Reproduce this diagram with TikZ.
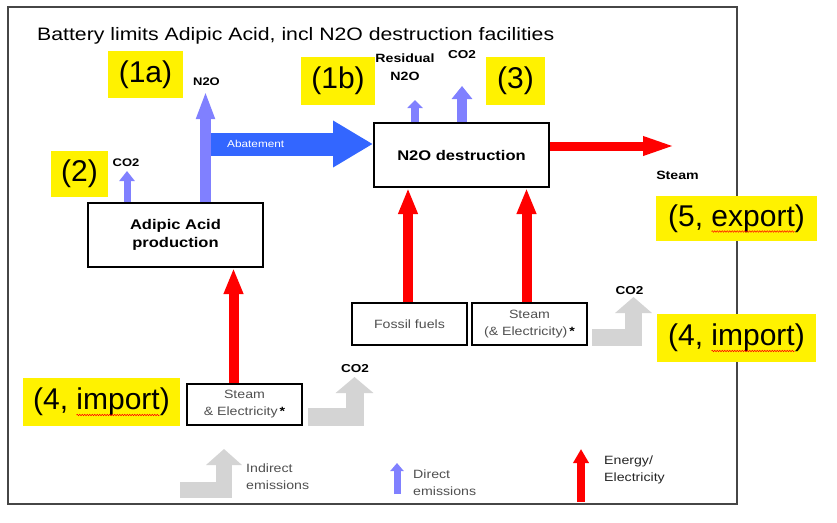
\documentclass[tikz,border=0pt]{standalone}
\usepackage{fontspec}
\setmainfont{Liberation Sans}[FakeStretch=1.18]
\newfontfamily\yfont{Liberation Sans}
\usetikzlibrary{arrows.meta,calc,decorations.pathmorphing}
\definecolor{lblue}{RGB}{128,128,255}
\definecolor{ablue}{RGB}{51,102,255}
\definecolor{arrgray}{RGB}{212,212,212}
\definecolor{txtgray}{RGB}{80,80,80}
\definecolor{framegray}{RGB}{70,70,70}
\tikzset{
  arr/.style n args={3}{line width=#1, -{Triangle[width=#2,length=#3]}},
  box/.style={draw=black, line width=2pt, fill=white, inner sep=0pt, align=center},
  ylab/.style={fill=yellow, inner sep=0pt, font=\yfont\fontsize{30}{30}\selectfont},
  lbl/.style={inner sep=0pt, align=center, font=\bfseries\fontsize{11.5}{18}\selectfont},
  legtxt/.style={inner sep=0pt, anchor=west, align=left, font=\fontsize{12}{17}\selectfont},
  bentarr/.style={draw=arrgray, line join=miter},
  wavy/.style={draw=red, line width=0.5pt, decorate, decoration={snake, amplitude=0.8pt, segment length=2.5pt}}
}
\begin{document}
\begin{tikzpicture}[x=1pt,y=-1pt]
\useasboundingbox (0,0) rectangle (837,522);
\fill[white] (0,0) rectangle (837,522);
\draw[framegray, line width=1.5pt] (8,7) rectangle (737,504);

\node[anchor=west, inner sep=0pt, font=\fontsize{18}{20}\selectfont] (title) at (37,36) {Battery limits Adipic Acid, incl N2O destruction facilities};

% yellow labels
\node[ylab, minimum width=75pt, minimum height=47pt] (y1a) at (145.5,74.5) {(1a)};
\node[ylab, minimum width=74pt, minimum height=48pt] (y1b) at (338,81) {(1b)};
\node[ylab, minimum width=57pt, minimum height=46pt] (y2) at (79.5,174) {(2)};
\node[ylab, minimum width=59pt, minimum height=48pt] (y3) at (515.5,81) {(3)};
\node[ylab, minimum width=161pt, minimum height=45pt] (y5) at (736.5,218.5) {(5, export)};
\node[ylab, minimum width=159pt, minimum height=48pt] (y4r) at (736.5,338) {(4, import)};
\node[ylab, minimum width=157pt, minimum height=48pt] (y4l) at (101.5,402) {(4, import)};
\draw[wavy] ($(y5.center)+(-25,13)$) -- ++(83,0);
\draw[wavy] ($(y4r.center)+(-25,13)$) -- ++(83,0);
\draw[wavy] ($(y4l.center)+(-25,13)$) -- ++(83,0);

% boxes
\node[box, minimum width=175pt, minimum height=64pt, font=\bfseries\fontsize{14}{18}\selectfont] (adipic) at (175.5,235) {Adipic Acid\\production};
\node[box, minimum width=175pt, minimum height=64pt, font=\bfseries\fontsize{14}{18}\selectfont] (n2o) at (461.5,155) {N2O destruction};
\node[box, minimum width=115pt, minimum height=42pt, text=txtgray, font=\fontsize{12}{17}\selectfont] (fossil) at (409.5,324) {Fossil fuels};
\node[box, minimum width=115pt, minimum height=42pt, text=txtgray, font=\fontsize{12}{17}\selectfont] (steamR) at (529.5,324) {Steam\\(\& Electricity)\,{\bfseries\textcolor{black}{*}}};
\node[box, minimum width=115pt, minimum height=41pt, text=txtgray, font=\fontsize{12}{17}\selectfont] (steamL) at (244.5,404.5) {Steam\\\& Electricity\,{\bfseries\textcolor{black}{*}}};

% labels
\node[lbl, font=\bfseries\fontsize{11}{13}\selectfont] (lN2O) at (206.5,82) {N2O};
\node[lbl, font=\bfseries\fontsize{11}{13}\selectfont] (lCO2a) at (126,163) {CO2};
\node[lbl, font=\bfseries\fontsize{12}{18}\selectfont] (lRes) at (405,67) {Residual\\N2O};
\node[lbl] (lCO2b) at (462,55) {CO2};
\node[lbl, font=\bfseries\fontsize{12}{14}\selectfont] (lSteam) at (677.5,175) {Steam};
\node[lbl] (lCO2r) at (629.5,291) {CO2};
\node[lbl] (lCO2l) at (355,369) {CO2};

% direct emission arrows (blue)
\draw[lblue, arr={7pt}{15pt}{10pt}] ($(adipic.north west)+(40,0)$) -- ++(0,-31);
\draw[lblue, arr={11pt}{17pt}{28pt}] ($(adipic.north west)+(118.5,0)$) coordinate (n2oBase) -- ++(0,-111) coordinate (n2oTip);
\coordinate (abS) at ($(n2oBase)+(5.5,-58)$);
\draw[ablue, arr={23pt}{44pt}{40pt}] (abS) -- (abS -| n2o.west);
\node[anchor=west, inner sep=0pt, text=white, font=\fontsize{10}{12}\selectfont] (lAb) at ($(abS)+(16,0)$) {Abatement};
\draw[lblue, arr={8pt}{15pt}{8pt}] ($(n2o.north west)+(42,0)$) -- ++(0,-22);
\draw[lblue, arr={10pt}{20pt}{13pt}] ($(n2o.north west)+(89,0)$) -- ++(0,-36);

% energy arrows (red)
\draw[red, arr={9pt}{17pt}{33pt}] ($(n2o.north east)+(0,24)$) -- ++(126,0);
\draw[red, arr={10pt}{18pt}{26pt}] ($(fossil.north)+(-1.5,0)$) coordinate (fA) -- (fA |- n2o.south);
\draw[red, arr={10pt}{18pt}{26pt}] ($(steamR.north)+(-3,0)$) coordinate (sA) -- (sA |- n2o.south);
\draw[red, arr={10pt}{18pt}{26pt}] ($(steamL.north)+(-11,0)$) coordinate (lA) -- (lA |- adipic.south);

% indirect emission arrows (grey)
\draw[bentarr, arr={18pt}{37pt}{16pt}] ($(steamL.east)+(5,12)$) -| ($(steamL.east)+(51.5,-27.5)$);
\draw[bentarr, arr={17pt}{36pt}{16pt}] ($(steamR.east)+(4,13)$) -| ($(steamR.east)+(45.5,-27)$);

% legend
\coordinate (legG) at (180,489.5);
\draw[bentarr, arr={16pt}{35pt}{16pt}] (legG) -| ($(legG)+(44,-40.5)$);
\node[legtxt, text=txtgray] (lInd) at (246,476.5) {Indirect\\emissions};
\coordinate (legB) at (397,494);
\draw[lblue, arr={7pt}{13pt}{8pt}] (legB) -- ++(0,-31);
\node[legtxt, text=txtgray] (lDir) at (413,482.5) {Direct\\emissions};
\coordinate (legR) at (581,502);
\draw[red, arr={8pt}{15pt}{14pt}] (legR) -- ++(0,-53);
\node[legtxt, text=black!85] (lEn) at (604,469.5) {Energy/\\Electricity};
\end{tikzpicture}
\end{document}
